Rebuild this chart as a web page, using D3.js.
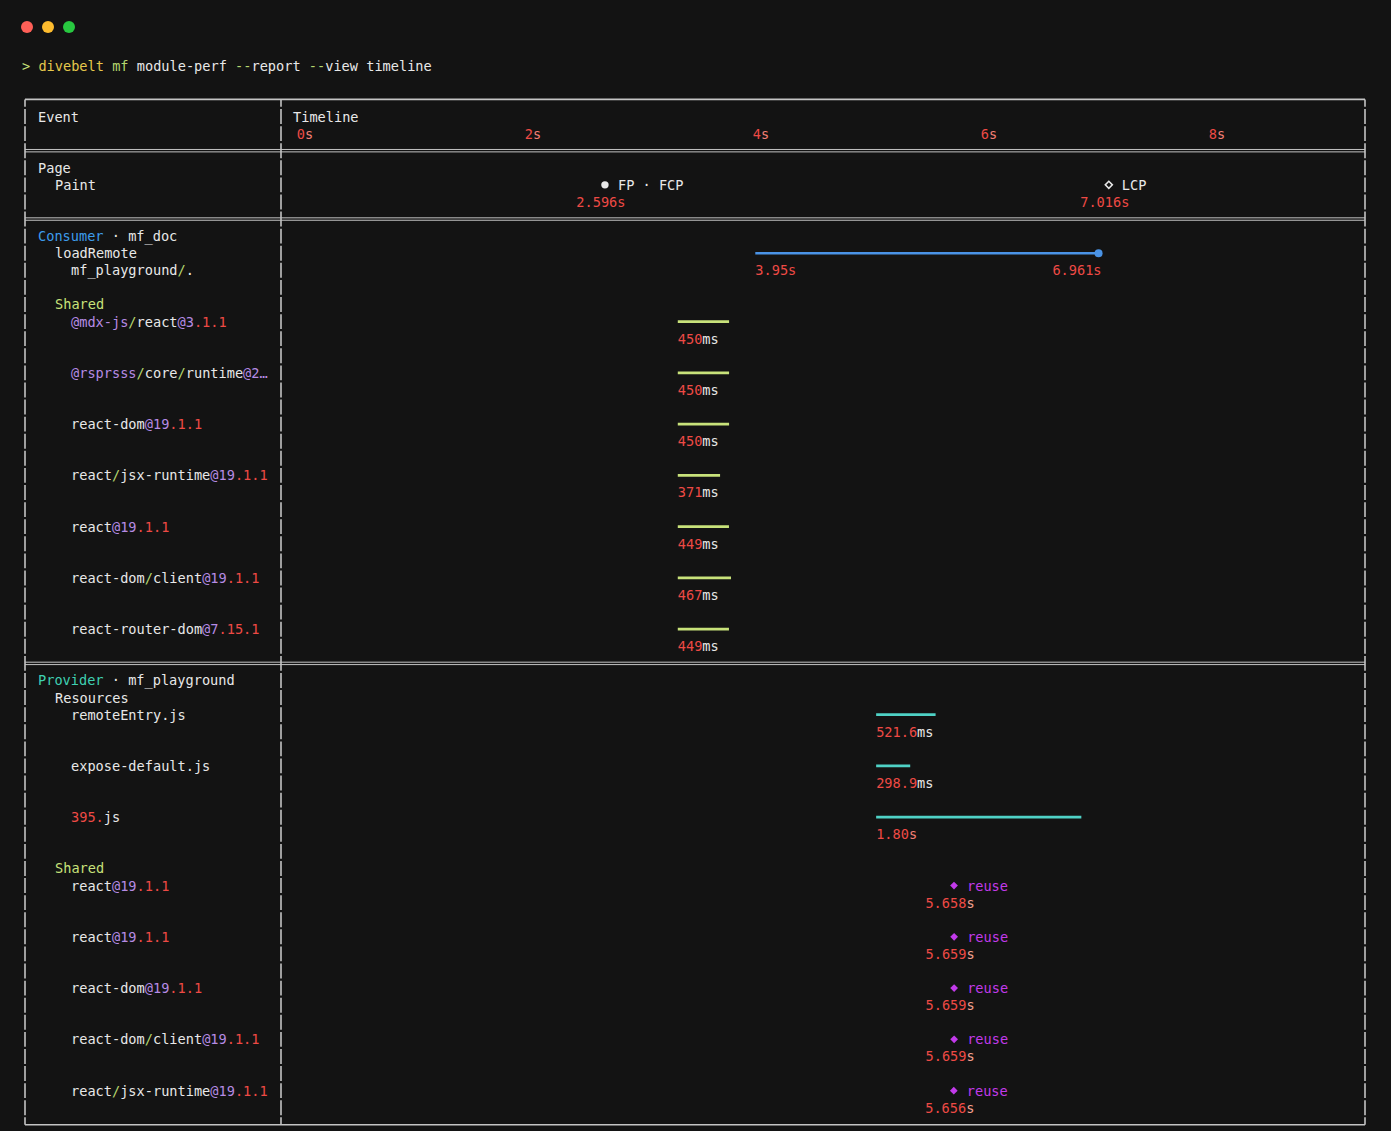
<!DOCTYPE html>
<html><head><meta charset="utf-8">
<script src="https://cdn.jsdelivr.net/npm/d3@7"></script>
<style>html,body{margin:0;background:#131313;} svg{display:block}</style>
</head><body><svg id="c" width="1391" height="1131"></svg>
<script>
// ---- data ----
const ticks = [0, 2, 4, 6, 8];
const paintNames = ["FP · FCP", "LCP"];
const paintTimes = [2.596, 7.016];
const paintShapes = ["circle", "diamond"];
const remoteName = "mf_playground/.";
const remoteStart = 3.95, remoteEnd = 6.961;
const consumerShared = ["@mdx-js/react@3.1.1", "@rsprsss/core/runtime@2…", "react-dom@19.1.1", "react/jsx-runtime@19.1.1", "react@19.1.1", "react-dom/client@19.1.1", "react-router-dom@7.15.1"];
const consumerStarts = [3.27, 3.27, 3.27, 3.27, 3.27, 3.27, 3.27];
const consumerDur = [450, 450, 450, 371, 449, 467, 449];
const resources = ["remoteEntry.js", "expose-default.js", "395.js"];
const resStarts = [5.01, 5.01, 5.01];
const resDur = [521.6, 298.9, 1800];
const providerShared = ["react@19.1.1", "react@19.1.1", "react-dom@19.1.1", "react-dom/client@19.1.1", "react/jsx-runtime@19.1.1"];
const reuseTimes = [5.658, 5.659, 5.659, 5.659, 5.656];

// ---- style ----
const C = {
  bg: "#131313", white: "#e8e8e8", red: "#ee4a45", redS: "#f27f75", purple: "#b68be4",
  green: "#b5d66e", shared: "#c8e27a", blue: "#3d9cec", bar: "#4a93e6", teal: "#3fd0b2",
  tealBar: "#4fd2c6", reuse: "#c23aea", border: "#c4c4c4", yellow: "#e5c84c"
};
const FONT = "'DejaVu Sans Mono', monospace";
const FS = 13.62;
const LH = 17.09, Y0 = 116.5;
const yl = i => Y0 + i * LH;
const XL = 25, XM = 281, XR = 1365;
const IND = [38, 55, 71];

const svg = d3.select("#c");
svg.append("rect").attr("width", 1391).attr("height", 1131).attr("fill", C.bg);

const x = d3.scaleLinear().domain([0, 8]).range([305, 1217]);

function text(g, px, py, segs, anchor) {
  const t = g.append("text").attr("x", px).attr("y", py)
    .attr("dominant-baseline", "central").attr("font-family", FONT).attr("font-size", FS)
    .attr("text-anchor", anchor || "start").attr("xml:space", "preserve");
  segs.forEach(([s, c]) => t.append("tspan").attr("fill", c).text(s));
  return t;
}
function nameSegs(s) {
  const segs = [];
  let rest = s;
  if (rest[0] === "@") { const k = rest.indexOf("/"); segs.push([rest.slice(0, k), C.purple]); rest = rest.slice(k); }
  let ver = null; const at = rest.lastIndexOf("@");
  if (at >= 0) { ver = rest.slice(at); rest = rest.slice(0, at); }
  const num = rest.match(/^(\d+\.)(.*)$/);
  if (num) { segs.push([num[1], C.red]); rest = num[2]; }
  rest.split(/(\/)/).forEach(p => { if (p) segs.push([p, p === "/" ? C.green : C.white]); });
  if (ver) {
    const d = ver.indexOf(".");
    if (d > 0) { segs.push([ver.slice(0, d), C.purple]); segs.push([ver.slice(d), C.red]); }
    else segs.push([ver, C.purple]);
  }
  return segs;
}
function durSegs(ms) {
  if (ms < 1000) return [[String(ms), C.red], ["ms", C.white]];
  return [[(ms / 1000).toFixed(2), C.red], ["s", C.redS]];
}
function timeSegs(t, sc) { return [[String(t), C.red], ["s", sc || C.red]]; }

// ---- window chrome ----
[["#ff5f57", 27], ["#febc2e", 48], ["#28c840", 69]].forEach(([c, cx]) =>
  svg.append("circle").attr("cx", cx).attr("cy", 27).attr("r", 6).attr("fill", c));
text(svg, 22, 66, [[">", C.shared], [" "], ["divebelt", C.yellow], [" "], ["mf", C.green], [" module-perf ", C.white],
  ["--", C.green], ["report ", C.white], ["--", C.green], ["view timeline", C.white]].map(s => [s[0], s[1] || C.white]));

// ---- table frame ----
const frame = svg.append("g").attr("stroke", C.border).attr("fill", "none");
const yTop = yl(-1), yBot = yl(59);
[XL, XM, XR].forEach(vx => {
  frame.append("line").attr("x1", vx).attr("x2", vx).attr("y1", yTop).attr("y2", yBot)
    .attr("stroke-width", 1.6).attr("stroke-dasharray", `${LH - 2.2},2.2`).attr("stroke-dashoffset", LH - 2.2 - LH / 2 + 1.1);
});
[yTop, yBot].forEach(hy => frame.append("line").attr("x1", XL).attr("x2", XR).attr("y1", hy).attr("y2", hy).attr("stroke-width", 1.6));
[2, 6, 32].forEach(i => [-1.2, 1.2].forEach(o =>
  frame.append("line").attr("x1", XL).attr("x2", XR).attr("y1", yl(i) + o).attr("y2", yl(i) + o).attr("stroke-width", 1)));

// ---- header ----
text(svg, IND[0], yl(0), [["Event", C.white]]);
text(svg, 293, yl(0), [["Timeline", C.white]]);
ticks.forEach(t => text(svg, x(t), yl(1), [[String(t), C.red], ["s", C.redS]], "middle"));

// ---- page paint ----
text(svg, IND[0], yl(3), [["Page", C.white]]);
text(svg, IND[1], yl(4), [["Paint", C.white]]);
paintTimes.forEach((t, k) => {
  const cx = x(t) + 4, cy = yl(4);
  if (paintShapes[k] === "circle") svg.append("circle").attr("cx", cx).attr("cy", cy).attr("r", 3.7).attr("fill", C.white);
  else svg.append("path").attr("d", d3.symbol(d3.symbolDiamond2, 32)()).attr("transform", `translate(${cx},${cy})`)
    .attr("fill", "none").attr("stroke", C.white).attr("stroke-width", 1.5);
  text(svg, cx + 13, cy, [[paintNames[k], C.white]]);
  text(svg, x(t), yl(5), timeSegs(t), "middle");
});

// ---- consumer ----
text(svg, IND[0], yl(7), [["Consumer", C.blue], [" · mf_doc", C.white]]);
text(svg, IND[1], yl(8), [["loadRemote", C.white]]);
text(svg, IND[2], yl(9), nameSegs(remoteName));
svg.append("line").attr("x1", x(remoteStart)).attr("x2", x(remoteEnd)).attr("y1", yl(8)).attr("y2", yl(8))
  .attr("stroke", C.bar).attr("stroke-width", 2.6);
svg.append("circle").attr("cx", x(remoteEnd)).attr("cy", yl(8)).attr("r", 4).attr("fill", C.bar);
text(svg, x(remoteStart), yl(9), timeSegs(remoteStart));
text(svg, x(remoteEnd) + 3, yl(9), timeSegs(remoteEnd), "end");

text(svg, IND[1], yl(11), [["Shared", C.shared]]);
consumerShared.forEach((n, k) => {
  const i = 12 + 3 * k;
  text(svg, IND[2], yl(i), nameSegs(n));
  const s = consumerStarts[k], e = s + consumerDur[k] / 1000;
  svg.append("line").attr("x1", x(s)).attr("x2", x(e)).attr("y1", yl(i)).attr("y2", yl(i))
    .attr("stroke", C.shared).attr("stroke-width", 2.8);
  text(svg, x(s), yl(i + 1), durSegs(consumerDur[k]));
});

// ---- provider ----
text(svg, IND[0], yl(33), [["Provider", C.teal], [" · mf_playground", C.white]]);
text(svg, IND[1], yl(34), [["Resources", C.white]]);
resources.forEach((n, k) => {
  const i = 35 + 3 * k;
  text(svg, IND[2], yl(i), nameSegs(n));
  const s = resStarts[k], e = s + resDur[k] / 1000;
  svg.append("line").attr("x1", x(s)).attr("x2", x(e)).attr("y1", yl(i)).attr("y2", yl(i))
    .attr("stroke", C.tealBar).attr("stroke-width", 2.8);
  text(svg, x(s), yl(i + 1), durSegs(resDur[k]));
});
text(svg, IND[1], yl(44), [["Shared", C.shared]]);
providerShared.forEach((n, k) => {
  const i = 45 + 3 * k;
  text(svg, IND[2], yl(i), nameSegs(n));
  const t = reuseTimes[k], cx = x(t) + 4;
  svg.append("path").attr("d", d3.symbol(d3.symbolDiamond2, 38)()).attr("transform", `translate(${cx},${yl(i)})`)
    .attr("fill", C.reuse);
  text(svg, cx + 13, yl(i), [["reuse", C.reuse]]);
  text(svg, x(t), yl(i + 1), timeSegs(t, "#f3a08f"), "middle");
});
</script></body></html>
